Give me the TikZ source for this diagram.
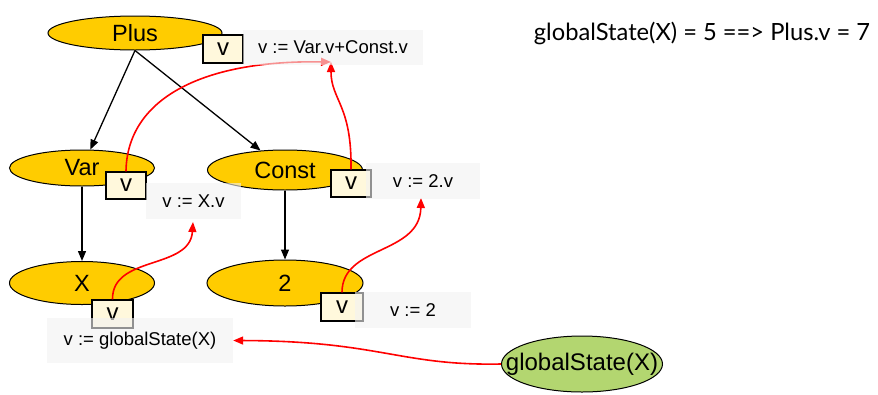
\documentclass[tikz,border=0pt]{standalone}
\usepackage{fontspec}
\setmainfont{Liberation Sans}
\newfontfamily\latofont{Lato}
\usetikzlibrary{shapes.geometric,arrows.meta}
\definecolor{termfill}{RGB}{255,204,0}
\definecolor{envfill}{RGB}{179,214,112}
\definecolor{attrfill}{RGB}{255,248,220}
\definecolor{rulefill}{RGB}{242,242,242}

\begin{document}
\begin{tikzpicture}[x=1pt,y=-1pt,
    term/.style={ellipse,draw,line width=1pt,fill=termfill,inner sep=0pt,font=\fontsize{23.5}{28}\selectfont},
    attr/.style={draw,line width=1.4pt,fill=attrfill,minimum width=40pt,minimum height=28pt,inner sep=0pt,font=\fontsize{24}{28}\selectfont},
    rule/.style={fill=rulefill,fill opacity=0.6,text opacity=1,inner sep=0pt,font=\fontsize{18.5}{22}\selectfont},
    edge/.style={line width=1.3pt,-{Triangle[length=10pt,width=8pt]}},
    flow/.style={red,line width=1.6pt,-{Triangle[length=10pt,width=8pt]}}]
    \useasboundingbox (0,0) rectangle (878,394);

    % terms of the tree
    \node[term,minimum width=174pt,minimum height=34pt] (plus) at (135,33) {Plus};
    \node[term,minimum width=145pt,minimum height=36pt] (var) at (82,168) {Var};
    \node[term,minimum width=155pt,minimum height=40pt] (const) at (285,170) {Const};
    \node[term,minimum width=145pt,minimum height=43pt] (x) at (82,283) {X};
    \node[term,minimum width=156pt,minimum height=46pt] (two) at (285,283) {2};
    \node[term,fill=envfill,minimum width=161pt,minimum height=56pt,font=\fontsize{24}{28}\selectfont] (gs) at (582,364) {\makebox[0pt]{globalState(X)}};

    \draw[edge] (plus.south) -- (var);
    \draw[edge] (plus.south) -- (const);
    \draw[edge] (var) -- (x);
    \draw[edge] (const) -- (two);

    % attributes
    \node[attr] (plusv) at (223,49) {v};
    \node[attr,minimum height=27pt] (varv) at (126,185.5) {v};
    \node[attr,minimum height=27pt] (constv) at (351,183.5) {v};
    \node[attr,minimum width=41pt] (xv) at (112.5,314) {v};
    \node[attr,minimum width=42pt] (twov) at (342,307) {v};

    % dependencies
    \coordinate (plusin) at (331,62);
    \coordinate (varin) at (193,222);
    \coordinate (constin) at (421,198);
    \draw[flow] (varv.north) .. controls (127,100) and (200,60) .. (plusin);
    \draw[flow] (constv.north) .. controls (352,105) and (331,100) .. (plusin);
    \draw[flow] (xv.north) .. controls (112,255) and (190,270) .. (varin);
    \draw[flow] (twov.north) .. controls (342,245) and (420,255) .. (constin);

    % rules
    \node[rule,minimum width=180pt,minimum height=35pt] (plusrule) at (333,47.5) {v := Var.v+Const.v};
    \node[rule,minimum width=95pt,minimum height=36pt] (varrule) at (193.5,201) {v := X.v};
    \node[rule,minimum width=114pt,minimum height=36pt] (construle) at (423,181) {v := 2.v};
    \node[rule,minimum width=186pt,minimum height=45pt] (xrule) at (140,340.5) {v := globalState(X)};
    \node[rule,minimum width=116pt,minimum height=36pt] (tworule) at (413,310) {v := 2};

    \draw[flow] (gs.west) .. controls (400,366) and (380,341) .. (xrule.east);

    \node[font=\latofont\fontsize{23.7}{28}\selectfont] (result) at (702,33) {globalState(X) = 5 ==> Plus.v = 7};
\end{tikzpicture}
\end{document}
